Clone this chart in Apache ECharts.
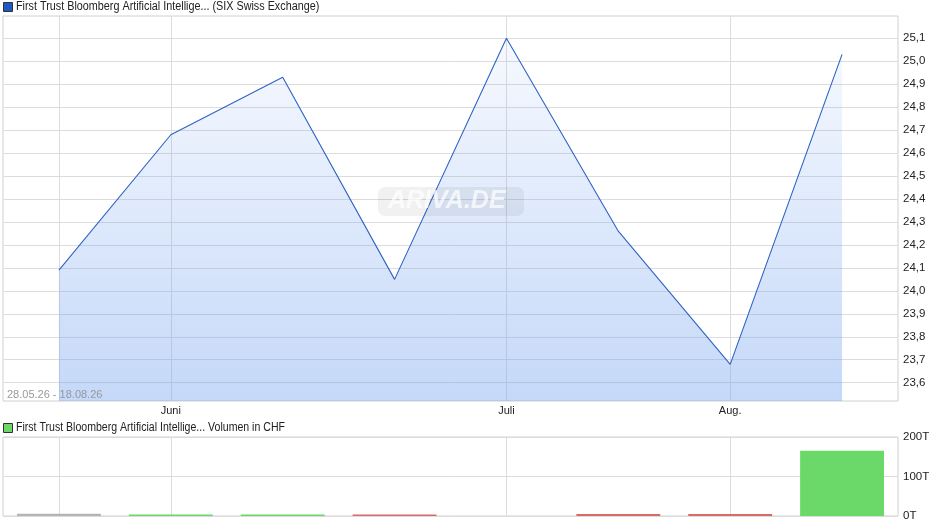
<!DOCTYPE html>
<html><head><meta charset="utf-8">
<script src="https://cdn.jsdelivr.net/npm/echarts@6/dist/echarts.min.js"></script>
<style>html,body{margin:0;padding:0;background:#fff}#c{width:940px;height:526px}</style>
</head><body><div id="c"></div>
<script>
// ---- data ----
const monthLabels = ['', 'Juni', '', '', 'Juli', '', 'Aug.', ''];
const verticalGridIdx = [0, 1, 4, 6];
const prices = [24.09, 24.68, 24.93, 24.05, 25.10, 24.26, 23.68, 25.03];
const volumes = [5500, 3500, 3500, 3500, 0, 5000, 5000, 165000];
const priceTicks = { min: 23.5, max: 25.2, step: 0.1 };
const volumeTicks = { min: 0, max: 200000, step: 100000 };
const titlePrice = 'First Trust Bloomberg Artificial Intellige... (SIX Swiss Exchange)';
const titleVolume = 'First Trust Bloomberg Artificial Intellige... Volumen in CHF';
const dateRange = '28.05.26 - 18.08.26';

// ---- layout ----
const FONT = '"Liberation Sans", Arial, sans-serif';
const L = 3, W = 895;
const pTop = 16, pBot = 401;               // price plot box
const y251 = 38.3, y236 = 382.7;           // pixel of 25.1 / 23.6
const pxPerUnit = (y236 - y251) / 1.5;
const gTop = y251 - (priceTicks.max - 25.1) * pxPerUnit;
const gBot = y236 + (23.6 - priceTicks.min) * pxPerUnit;
const dataMin = priceTicks.min + (gBot - pBot) / pxPerUnit;
const dataMax = priceTicks.max - (pTop - gTop) / pxPerUnit;

const barColors = volumes.map((v, i) => i === 0 ? '#b4b4b4' : (prices[i] >= prices[i - 1] ? '#6ad96a' : '#d96a6a'));

const gridLineColor = '#dcdcdc';
const vSplit = { show: true, alignWithLabel: true, interval: (i) => verticalGridIdx.includes(i), lineStyle: { color: gridLineColor, width: 1 } };

const chart = echarts.init(document.getElementById('c'), null, { renderer: 'canvas' });
chart.setOption({
  animation: false,
  textStyle: { fontFamily: FONT },
  grid: [
    { left: L, width: W, top: pTop, height: pBot - pTop, show: true, borderColor: '#d0d0d0', borderWidth: 1, backgroundColor: 'transparent' },
    { left: L, width: W, top: gTop, height: gBot - gTop, show: false },
    { left: L, width: W, top: 437, height: 79, show: true, borderColor: '#d0d0d0', borderWidth: 1 }
  ],
  xAxis: [
    { gridIndex: 0, type: 'category', data: monthLabels, boundaryGap: true,
      axisLine: { show: false }, axisTick: { show: false },
      axisLabel: { interval: (i, v) => v !== '', margin: 4, fontSize: 11, color: '#222', fontFamily: FONT },
      splitLine: vSplit, z: 1 },
    { gridIndex: 1, type: 'category', data: monthLabels, boundaryGap: true, show: false },
    { gridIndex: 2, type: 'category', data: monthLabels, boundaryGap: true,
      axisLine: { show: false }, axisTick: { show: false }, axisLabel: { show: false },
      splitLine: vSplit }
  ],
  yAxis: [
    { gridIndex: 0, type: 'value', min: dataMin, max: dataMax, show: false, splitLine: { show: false } },
    { gridIndex: 1, type: 'value', position: 'right', min: priceTicks.min, max: priceTicks.max, interval: priceTicks.step,
      axisLine: { show: false }, axisTick: { show: false },
      axisLabel: { margin: 5, fontSize: 11.5, color: '#222', fontFamily: FONT, showMinLabel: false, showMaxLabel: false,
        formatter: v => v.toFixed(1).replace('.', ',') },
      splitLine: { show: true, showMinLine: false, showMaxLine: false, lineStyle: { color: gridLineColor } } },
    { gridIndex: 2, type: 'value', position: 'right', min: volumeTicks.min, max: volumeTicks.max, interval: volumeTicks.step,
      axisLine: { show: false }, axisTick: { show: false },
      axisLabel: { margin: 5, fontSize: 11.5, color: '#222', fontFamily: FONT, formatter: v => (v / 1000) + 'T' },
      splitLine: { show: true, lineStyle: { color: gridLineColor } } }
  ],
  series: [
    { type: 'line', xAxisIndex: 0, yAxisIndex: 0, data: prices, symbol: 'none', z: 3,
      lineStyle: { color: '#2f63c4', width: 1.1 },
      areaStyle: { origin: 'start', color: new echarts.graphic.LinearGradient(0, 0, 0, 1, [
        { offset: 0, color: 'rgba(120,165,240,0.09)' }, { offset: 1, color: 'rgba(115,162,240,0.6)' }]) } },
    { type: 'bar', xAxisIndex: 2, yAxisIndex: 2, barWidth: '75%', z: 3,
      data: volumes.map((v, i) => ({ value: v, itemStyle: { color: barColors[i] } })) }
  ],
  graphic: [
    { type: 'rect', left: 3, top: 2, shape: { width: 9, height: 9 }, style: { fill: '#1f57c3', stroke: '#333', lineWidth: 1 }, z: 10 },
    { type: 'text', x: 16, y: 1, scaleX: 0.9, style: { text: titlePrice, font: '12px ' + FONT, fill: '#222' }, z: 10 },
    { type: 'rect', left: 3, top: 423, shape: { width: 9, height: 9 }, style: { fill: '#6ad96a', stroke: '#333', lineWidth: 1 }, z: 10 },
    { type: 'text', x: 16, y: 422, scaleX: 0.88, style: { text: titleVolume, font: '12px ' + FONT, fill: '#222' }, z: 10 },
    { type: 'text', left: 7, top: 389, style: { text: dateRange, font: '11px ' + FONT, fill: '#999' }, z: 10 },
    { type: 'rect', left: 378, top: 187, shape: { width: 146, height: 29, r: 7 }, style: { fill: 'rgba(0,0,0,0.055)' }, z: 5 },
    { type: 'text', left: 388, top: 189, style: { text: 'ARIVA.DE', font: 'italic bold 25px ' + FONT, fill: 'rgba(255,255,255,0.7)' }, z: 6 }
  ]
});
</script></body></html>
